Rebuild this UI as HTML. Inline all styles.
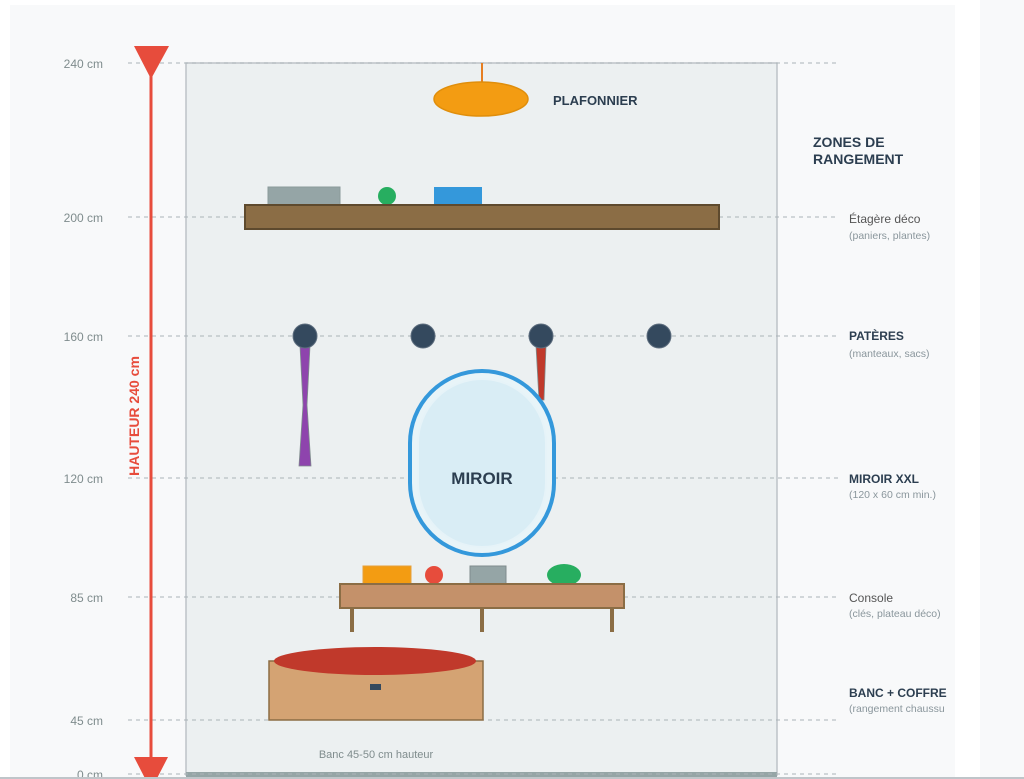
<!DOCTYPE html>
<html><head><meta charset="utf-8"><style>
html,body{margin:0;padding:0;background:#fff;}
svg{display:block;font-family:"Liberation Sans",sans-serif;}
</style></head><body>
<svg width="1024" height="779" viewBox="0 0 1024 779" xmlns="http://www.w3.org/2000/svg">
<rect x="0" y="0" width="1024" height="779" fill="#fff"/>
<rect x="10" y="5" width="945" height="774" fill="#f8f9fa"/>
<rect x="980" y="0" width="44" height="779" fill="#f8f9fa"/>
<!-- wall -->
<rect x="186" y="63" width="591" height="712" fill="#ecf0f1" stroke="#bdc3c7" stroke-width="1.5"/>
<rect x="186" y="772" width="591" height="7" fill="#95a5a6"/>
<!-- dashed lines -->
<g stroke="#aab3b8" stroke-width="1" stroke-dasharray="4,4">
<line x1="128" y1="63" x2="838" y2="63"/>
<line x1="128" y1="217" x2="245" y2="217"/>
<line x1="719" y1="217" x2="838" y2="217"/>
<line x1="128" y1="336" x2="838" y2="336"/>
<line x1="128" y1="478" x2="410" y2="478"/>
<line x1="554" y1="478" x2="838" y2="478"/>
<line x1="128" y1="597" x2="340" y2="597"/>
<line x1="624" y1="597" x2="838" y2="597"/>
<line x1="128" y1="720" x2="838" y2="720"/>
<line x1="128" y1="774" x2="838" y2="774"/>
</g>
<!-- axis labels -->
<g font-size="12" fill="#7f8c8d" text-anchor="end">
<text x="103" y="68">240 cm</text>
<text x="103" y="222">200 cm</text>
<text x="103" y="341">160 cm</text>
<text x="103" y="483">120 cm</text>
<text x="103" y="602">85 cm</text>
<text x="103" y="725">45 cm</text>
<text x="103" y="779">0 cm</text>
</g>
<!-- red arrow -->
<line x1="151" y1="60" x2="151" y2="770" stroke="#e74c3c" stroke-width="3"/>
<polygon points="134,46 169,46 151,79" fill="#e74c3c"/>
<polygon points="134,757 168,757 151,790" fill="#e74c3c"/>
<text x="0" y="0" transform="translate(139,416) rotate(-90)" font-size="14" font-weight="bold" fill="#e74c3c" text-anchor="middle">HAUTEUR 240 cm</text>
<!-- lamp -->
<line x1="482" y1="63" x2="482" y2="83" stroke="#e67e22" stroke-width="2"/>
<ellipse cx="481" cy="99" rx="47" ry="17" fill="#f39c12" stroke="#e08e0b" stroke-width="1.5"/>
<text x="553" y="105" font-size="13" font-weight="bold" fill="#2c3e50">PLAFONNIER</text>
<!-- shelf -->
<rect x="268" y="187" width="72" height="18" fill="#95a5a6" stroke="#8a9a9b"/>
<circle cx="387" cy="196" r="9" fill="#27ae60"/>
<rect x="434" y="187" width="48" height="18" fill="#3498db"/>
<rect x="245" y="205" width="474" height="24" fill="#8b6d45" stroke="#5e4a2e" stroke-width="2"/>
<!-- coats -->
<polygon points="300,346 310,346 307,405 311,466 299,466 303,405" fill="#8e44ad" stroke="#7f8c8d" stroke-width="0.8"/>
<polygon points="536,346 546,346 544,400 539,400" fill="#c0392b" stroke="#7f8c8d" stroke-width="0.8"/>
<!-- hooks -->
<g fill="#34495e" stroke="#5d6d7e" stroke-width="1">
<circle cx="305" cy="336" r="12"/>
<circle cx="423" cy="336" r="12"/>
<circle cx="541" cy="336" r="12"/>
<circle cx="659" cy="336" r="12"/>
</g>
<!-- mirror -->
<rect x="410" y="371" width="144" height="184" rx="72" ry="72" fill="#e8f4f8" stroke="#3498db" stroke-width="4"/>
<rect x="418" y="379" width="128" height="168" rx="64" ry="64" fill="#d9edf5" stroke="#e6f3f8" stroke-width="2"/>
<text x="482" y="484" font-size="17" font-weight="bold" fill="#2c3e50" text-anchor="middle">MIROIR</text>
<!-- console -->
<rect x="363" y="566" width="48" height="18" fill="#f39c12" stroke="#e6a03a"/>
<ellipse cx="434" cy="575" rx="9" ry="9" fill="#e74c3c"/>
<rect x="470" y="566" width="36" height="18" fill="#95a5a6" stroke="#7f8c8d"/>
<ellipse cx="564" cy="575" rx="17" ry="11" fill="#27ae60"/>
<rect x="340" y="584" width="284" height="24" fill="#c4916a" stroke="#8b6d45" stroke-width="2"/>
<rect x="350" y="608" width="4" height="24" fill="#8b6d45"/>
<rect x="480" y="608" width="4" height="24" fill="#8b6d45"/>
<rect x="610" y="608" width="4" height="24" fill="#8b6d45"/>
<!-- bench -->
<rect x="269" y="661" width="214" height="59" fill="#d4a373" stroke="#8b6d45" stroke-width="1.5"/>
<ellipse cx="375" cy="661" rx="101" ry="14" fill="#c0392b"/>
<rect x="370" y="684" width="11" height="6" fill="#34495e"/>
<text x="376" y="758" font-size="11" fill="#7f8c8d" text-anchor="middle">Banc 45-50 cm hauteur</text>
<!-- right labels -->
<g fill="#2c3e50" font-weight="bold" font-size="14">
<text x="813" y="147">ZONES DE</text>
<text x="813" y="164">RANGEMENT</text>
</g>
<g font-size="12">
<text x="849" y="223" fill="#555">Étagère déco</text>
<text x="849" y="340" fill="#2c3e50" font-weight="bold">PATÈRES</text>
<text x="849" y="483" fill="#2c3e50" font-weight="bold">MIROIR XXL</text>
<text x="849" y="602" fill="#555">Console</text>
<text x="849" y="697" fill="#2c3e50" font-weight="bold">BANC + COFFRE</text>
</g>
<g font-size="10.5" fill="#8a969c">
<text x="849" y="239">(paniers, plantes)</text>
<text x="849" y="357">(manteaux, sacs)</text>
<text x="849" y="498">(120 x 60 cm min.)</text>
<text x="849" y="617">(clés, plateau déco)</text>
<text x="849" y="712">(rangement chaussu</text>
</g>
<rect x="955" y="0" width="25" height="779" fill="#fff"/>
<rect x="0" y="777" width="1024" height="2" fill="#bfc5c9"/>
</svg>
</body></html>
